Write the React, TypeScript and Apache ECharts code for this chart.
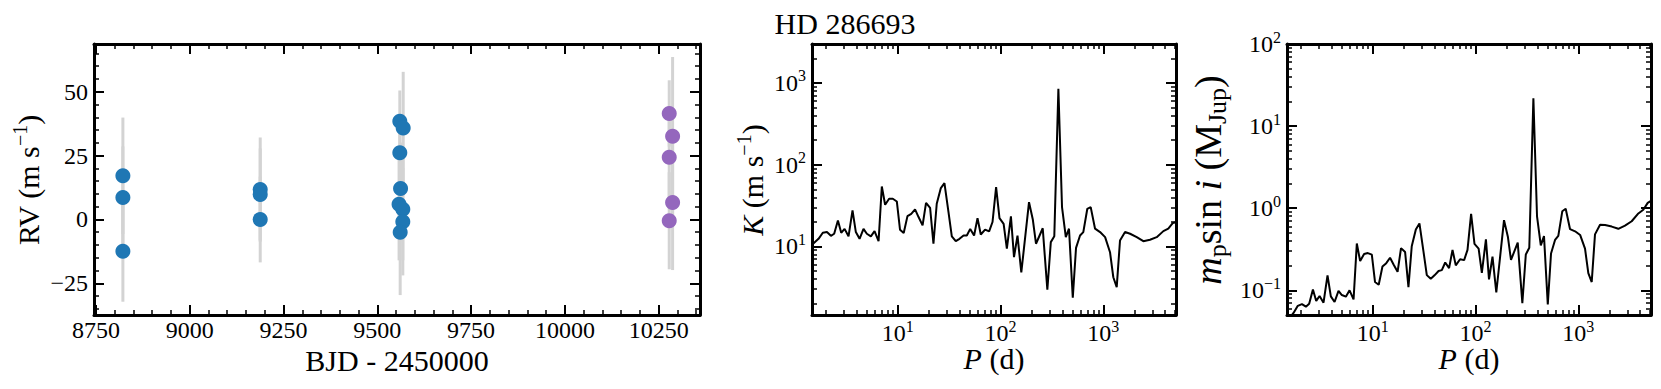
import React, { useEffect, useRef } from 'react';
import * as echarts from 'echarts';

const FONT = "'Liberation Serif', 'DejaVu Serif', 'Times New Roman', serif";

// ---------- Panel 1: RV time series ----------
const blueX = [8822, 8822, 8822, 9188, 9188, 9188, 9560, 9569, 9560, 9562, 9558, 9568, 9568, 9561];
const blueRV = [17.1, 8.6, -12.4, 11.7, 9.8, 0.0, 38.5, 35.8, 26.1, 12.1, 6.0, 4.0, -0.9, -5.0];
const blueErr = [22.8, 20, 19.8, 20.4, 18, 16.8, 12, 22, 15, 18, 22, 20, 21, 24.6];
const purpleX = [10278, 10287, 10278, 10287, 10278];
const purpleRV = [41.5, 32.6, 24.4, 6.6, -0.5];
const purpleErr = [13, 31, 20, 26.4, 19];

const rvXTicks = [8750, 9000, 9250, 9500, 9750, 10000, 10250];
const rvYTicks = [-25, 0, 25, 50];

// ---------- Panels 2 & 3: periodogram ----------
const periods = [1.46, 1.69, 1.86, 2.04, 2.23, 2.40, 2.61, 2.81, 3.03, 3.31, 3.62, 3.90, 4.24, 4.63, 4.99, 5.46, 5.93, 6.49, 6.98, 7.52, 8.22, 8.93, 9.77, 10.5, 11.4, 12.4, 13.5, 14.7, 15.9, 17.4, 18.8, 20.6, 22.2, 23.9, 26.2, 28.4, 31.1, 33.5, 36.6, 39.8, 43.6, 46.9, 50.6, 55.2, 59.6, 64.1, 70.6, 77.3, 83.4, 90.4, 97.5, 107, 115, 126, 135, 146, 159, 189, 206, 221, 257, 285, 308, 333, 365, 396, 431, 463, 504, 542, 593, 638, 698, 753, 830, 929, 1040, 1161, 1250, 1349, 1452, 1626, 1820, 2113, 2449, 2844, 3304, 3837, 4285, 4732, 5093];
const kValues = [10.5, 12.4, 14.7, 15.0, 13.5, 14.3, 20.8, 14.7, 16.4, 13.3, 27.6, 15.0, 12.4, 16.4, 14.3, 13.3, 15.4, 11.6, 54.2, 32.4, 38.3, 38.3, 35.5, 16.0, 14.6, 23.5, 25.1, 28.4, 22.9, 18.1, 34.2, 29.7, 10.8, 33.3, 51.8, 59.6, 26.3, 13.3, 11.6, 12.4, 13.6, 13.6, 16.4, 13.6, 22.2, 14.0, 16.1, 15.3, 19.9, 53.2, 22.2, 18.9, 9.4, 23.3, 7.4, 13.6, 4.8, 34.8, 21.2, 10.8, 16.7, 2.95, 11.3, 13.3, 851, 30.3, 13.0, 16.5, 2.36, 9.6, 13.6, 15.0, 28.9, 30.3, 16.5, 15.0, 13.0, 8.5, 4.2, 3.18, 11.8, 15.0, 14.3, 13.0, 11.6, 12.1, 13.0, 15.4, 16.5, 19.3, 19.8];
const mValues = [0.042, 0.0530, 0.0647, 0.0679, 0.0632, 0.0685, 0.1025, 0.0742, 0.0852, 0.0707, 0.152, 0.0844, 0.0720, 0.0982, 0.0875, 0.0836, 0.100, 0.0776, 0.371, 0.227, 0.277, 0.284, 0.272, 0.126, 0.117, 0.195, 0.214, 0.249, 0.206, 0.168, 0.326, 0.292, 0.109, 0.344, 0.551, 0.652, 0.296, 0.153, 0.138, 0.152, 0.172, 0.176, 0.218, 0.186, 0.311, 0.201, 0.239, 0.233, 0.311, 0.855, 0.367, 0.321, 0.163, 0.418, 0.136, 0.257, 0.0940, 0.716, 0.449, 0.234, 0.381, 0.0696, 0.273, 0.329, 21.8, 0.796, 0.352, 0.457, 0.0671, 0.281, 0.410, 0.461, 0.919, 0.986, 0.555, 0.523, 0.472, 0.321, 0.162, 0.126, 0.480, 0.630, 0.625, 0.597, 0.561, 0.612, 0.693, 0.863, 0.959, 1.16, 1.23];

const logXTicks = [10, 100, 1000];
const kYTicks = [10, 100, 1000];
const mYTicks = [0.1, 1, 10, 100];

const TITLE = 'HD 286693';

function linMinors(lo: number, hi: number, step: number) {
  const out: number[] = [];
  for (let v = Math.ceil(lo / step) * step; v <= hi + 1e-9; v += step) out.push(v);
  return out;
}
function logMinors(lo: number, hi: number) {
  const out: number[] = [];
  for (let e = -3; e <= 4; e++) {
    for (let k = 2; k <= 9; k++) {
      const v = e >= 0 ? k * Math.pow(10, e) : k / Math.pow(10, -e);
      if (v >= lo - 1e-12 && v <= hi + 1e-9) out.push(v);
    }
  }
  return out;
}

const tickRich = {
  b: { fontSize: 24, fontFamily: FONT, color: '#000', lineHeight: 30 },
  s: { fontSize: 16, fontFamily: FONT, color: '#000', lineHeight: 14, verticalAlign: 'top' },
};
const logFmt = (v: number) => {
  const e = Math.round(Math.log10(v));
  return '{b|10}{s|' + (e < 0 ? '\u2212' + -e : String(e)) + '}';
};
const linFmt = (v: number) => (v < 0 ? '\u2212' + -v : String(v));

function axisSet(dim: 'x' | 'y', grid: number, type: 'value' | 'log', min: number, max: number,
  majors: number[], minors: number[], fmt: (v: number) => string, rich: any) {
  const posA = dim === 'x' ? 'bottom' : 'left';
  const posB = dim === 'x' ? 'top' : 'right';
  const base: any = {
    type, gridIndex: grid, min, max,
    splitLine: { show: false }, minorTick: { show: false }, minorSplitLine: { show: false },
    axisPointer: { show: false },
  };
  const line = { show: true, onZero: false, lineStyle: { color: '#000', width: 3 } };
  const noLine = { show: false, onZero: false };
  const major = { show: true, inside: true, length: 10, lineStyle: { color: '#000', width: 2 }, customValues: majors };
  const minor = { show: true, inside: true, length: 5, lineStyle: { color: '#000', width: 1.5 }, customValues: minors };
  const label: any = {
    show: true, customValues: majors, formatter: fmt,
    margin: dim === 'x' ? 3 : 6, fontSize: 24, fontFamily: FONT, color: '#000',
  };
  if (rich) label.rich = rich;
  return [
    { ...base, position: posA, axisLine: line, axisTick: major, axisLabel: label },
    { ...base, position: posA, axisLine: noLine, axisTick: minor, axisLabel: { show: false } },
    { ...base, position: posB, axisLine: line, axisTick: major, axisLabel: { show: false } },
    { ...base, position: posB, axisLine: noLine, axisTick: minor, axisLabel: { show: false } },
  ];
}

const errorSeries = (xs: number[], ys: number[], es: number[]) => ({
  type: 'custom',
  xAxisIndex: 0,
  yAxisIndex: 0,
  z: 1,
  data: xs.map((x, i) => [x, ys[i], es[i]]),
  encode: { x: 0, y: 1 },
  renderItem: (params: any, api: any) => {
    const x = api.value(0);
    const y = api.value(1);
    const e = api.value(2);
    const top = api.coord([x, y + e]);
    const bot = api.coord([x, y - e]);
    return {
      type: 'line',
      shape: { x1: top[0], y1: top[1], x2: bot[0], y2: bot[1] },
      style: { stroke: '#d3d3d3', lineWidth: 3 },
    };
  },
});

function richText(size: number) {
  const sup = Math.round(size * 0.68);
  return {
    n: { fontSize: size, fontFamily: FONT, fill: '#000', lineHeight: size + 6 },
    i: { fontSize: size, fontFamily: FONT, fill: '#000', fontStyle: 'italic', lineHeight: size + 6 },
    sup: { fontSize: sup, fontFamily: FONT, fill: '#000', lineHeight: Math.round(size * 0.5), verticalAlign: 'top' },
    sub: { fontSize: sup, fontFamily: FONT, fill: '#000', lineHeight: Math.round(size * 0.5), verticalAlign: 'bottom' },
  };
}

function textEl(x: number, y: number, text: string, size: number, rotate = false) {
  return {
    type: 'text',
    x, y,
    rotation: rotate ? Math.PI / 2 : 0,
    style: {
      text, rich: richText(size), fontSize: size, fontFamily: FONT, fill: '#000',
      align: 'center', verticalAlign: 'middle',
    },
    silent: true,
  };
}

export default function App() {
  const ref = useRef<HTMLDivElement>(null);
  useEffect(() => {
    if (!ref.current) return;
    const chart = echarts.init(ref.current, undefined, { renderer: 'svg' });

    const xMin1 = 8745, xMax1 = 10360, yMin1 = -37.4, yMax1 = 68.7;
    const pMin = 1.46, pMax = 5093;
    const kMin = 1.45, kMax = 3000;
    const mMin = 0.05, mMax = 100;

    const xAxes = [
      ...axisSet('x', 0, 'value', xMin1, xMax1, rvXTicks, linMinors(xMin1, xMax1, 50), linFmt, null),
      ...axisSet('x', 1, 'log', pMin, pMax, logXTicks, logMinors(pMin, pMax), logFmt, tickRich),
      ...axisSet('x', 2, 'log', pMin, pMax, logXTicks, logMinors(pMin, pMax), logFmt, tickRich),
    ];
    const yAxes = [
      ...axisSet('y', 0, 'value', yMin1, yMax1, rvYTicks, linMinors(yMin1, yMax1, 5), linFmt, null),
      ...axisSet('y', 1, 'log', kMin, kMax, kYTicks, logMinors(kMin, kMax), logFmt, tickRich),
      ...axisSet('y', 2, 'log', mMin, mMax, mYTicks, logMinors(mMin, mMax), logFmt, tickRich),
    ];

    const option: any = {
      animation: false,
      backgroundColor: '#fff',
      grid: [
        { left: 94, top: 44, width: 606, height: 271, outerBoundsMode: 'none', containLabel: false },
        { left: 812, top: 44, width: 364, height: 271, outerBoundsMode: 'none', containLabel: false },
        { left: 1287, top: 44, width: 364, height: 271, outerBoundsMode: 'none', containLabel: false },
      ],
      xAxis: xAxes,
      yAxis: yAxes,
      series: [
        errorSeries(blueX, blueRV, blueErr),
        errorSeries(purpleX, purpleRV, purpleErr),
        {
          type: 'scatter', xAxisIndex: 0, yAxisIndex: 0, z: 3,
          symbolSize: 15, itemStyle: { color: '#1f77b4', opacity: 1 },
          data: blueX.map((x, i) => [x, blueRV[i]]),
        },
        {
          type: 'scatter', xAxisIndex: 0, yAxisIndex: 0, z: 3,
          symbolSize: 15, itemStyle: { color: '#9467bd', opacity: 1 },
          data: purpleX.map((x, i) => [x, purpleRV[i]]),
        },
        {
          type: 'line', xAxisIndex: 4, yAxisIndex: 4, symbol: 'none', clip: true,
          lineStyle: { color: '#000', width: 2 },
          data: periods.map((p, i) => [p, kValues[i]]),
        },
        {
          type: 'line', xAxisIndex: 8, yAxisIndex: 8, symbol: 'none', clip: true,
          lineStyle: { color: '#000', width: 2 },
          data: periods.map((p, i) => [p, mValues[i]]),
        },
      ],
      graphic: [
        textEl(845, 23, '{n|' + TITLE + '}', 30),
        textEl(397, 360, '{n|BJD - 2450000}', 30),
        textEl(994, 358, '{i|P}{n| (d)}', 30),
        textEl(1469, 358, '{i|P}{n| (d)}', 30),
        textEl(28, 180, '{n|RV (m s}{sup|\u22121}{n|)}', 30, true),
        textEl(752, 180, '{i|K}{n| (m s}{sup|\u22121}{n|)}', 30, true),
        textEl(1208, 180, '{i|m}{sub|p}{n|sin }{i|i}{n| (M}{sub|Jup}{n|)}', 38, true),
      ],
    };
    chart.setOption(option);
    return () => chart.dispose();
  }, []);
  return (
    <div
      ref={ref}
      style={{ position: 'absolute', left: 0, top: 0, width: 1661, height: 389, background: '#fff' }}
    />
  );
}
